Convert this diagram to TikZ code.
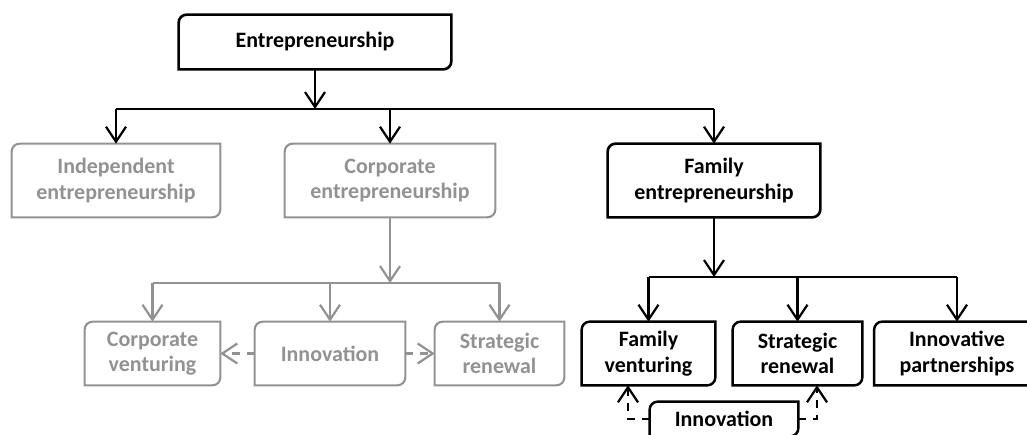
\documentclass[tikz,border=0pt]{standalone}
\usepackage{fontspec}
\setmainfont{Carlito}
\usetikzlibrary{arrows.meta}
\definecolor{grau}{HTML}{929292}
% Rahmen mit zwei abgerundeten Ecken (oben links, unten rechts)
\newcommand\rahmen[2][]{%
	\draw[#1] ([xshift=1.6mm]#2.north west) -- (#2.north east) -- ([yshift=1.6mm]#2.south east)
		arc[start angle=0, end angle=-90, radius=1.6mm] -- (#2.south west) -- ([yshift=-1.6mm]#2.north west)
		arc[start angle=180, end angle=90, radius=1.6mm] -- cycle;}
\tikzset{
	kasten/.style={inner sep=0pt, align=center, font=\fontsize{12.5}{14.5}\selectfont\bfseries},
	blass/.style={text=grau},
	linie/.style={line width=1.25pt},
	pfeil/.style={line width=1.25pt, -{Straight Barb[length=3mm,width=4mm]}},
	strich/.style={pfeil, dash pattern=on 1.5mm off 1.5mm},
}
\begin{document}
\begin{tikzpicture}
		\useasboundingbox (0,0) rectangle (20.54,8.68);
		% Oberbegriff
		\node[kasten, minimum width=5.44cm, minimum height=1.08cm] (ent) at (6.30,7.84) {Entrepreneurship};
		% zweite Ebene
		\node[kasten, blass, minimum width=4.16cm, minimum height=1.46cm] (indep) at (2.32,5.07) {Independent\\entrepreneurship};
		\node[kasten, blass, minimum width=4.20cm, minimum height=1.46cm] (corp) at (7.80,5.07) {Corporate\\entrepreneurship};
		\node[kasten, minimum width=4.24cm, minimum height=1.46cm] (family) at (14.28,5.07) {Family\\entrepreneurship};
		% dritte Ebene, Corporate
		\node[kasten, blass, minimum width=2.70cm, minimum height=1.26cm] (cventure) at (3.05,1.61) {Corporate\\venturing};
		\node[kasten, blass, minimum width=3.00cm, minimum height=1.26cm] (cinno) at (6.60,1.61) {Innovation};
		\node[kasten, blass, minimum width=2.58cm, minimum height=1.26cm] (crenew) at (9.99,1.61) {Strategic\\renewal};
		% dritte Ebene, Family
		\node[kasten, minimum width=2.66cm, minimum height=1.26cm] (fventure) at (12.97,1.61) {Family\\venturing};
		\node[kasten, minimum width=2.58cm, minimum height=1.26cm] (frenew) at (15.95,1.61) {Strategic\\renewal};
		\node[kasten, minimum width=3.30cm, minimum height=1.26cm] (fpartner) at (19.14,1.61) {Innovative\\partnerships};
		\node[kasten, minimum width=2.96cm, minimum height=0.68cm] (finno) at (14.48,0.30) {Innovation};
		% Rahmen
		\rahmen[line width=1.5pt]{ent}
		\rahmen[line width=1.2pt, grau]{indep}
		\rahmen[line width=1.2pt, grau]{corp}
		\rahmen[line width=1.5pt]{family}
		\rahmen[line width=1.2pt, grau]{cventure}
		\rahmen[line width=1.2pt, grau]{cinno}
		\rahmen[line width=1.2pt, grau]{crenew}
		\rahmen[line width=1.4pt]{fventure}
		\rahmen[line width=1.4pt]{frenew}
		\rahmen[line width=1.4pt]{fpartner}
		\rahmen[line width=1.4pt]{finno}
		% Verzweigungen
		\coordinate (split1) at (6.30,6.50);
		\coordinate (split2) at (7.80,3.02);
		\coordinate (split3) at (14.28,3.14);
		\draw[pfeil] (ent.south) -- (split1);
		\draw[linie] (indep |- split1) -- (family |- split1);
		\foreach \n in {indep,corp,family} {
			\draw[pfeil] (\n |- split1) -- (\n.north);
		}
		\draw[pfeil, grau] (corp.south) -- (split2);
		\draw[linie, grau] (cventure |- split2) -- (crenew |- split2);
		\foreach \n in {cventure,cinno,crenew} {
			\draw[pfeil, grau] (\n |- split2) -- (\n.north);
		}
		\draw[pfeil] (family.south) -- (split3);
		\draw[linie] (fventure |- split3) -- (fpartner |- split3);
		\foreach \n in {fventure,frenew,fpartner} {
			\draw[pfeil] (\n |- split3) -- (\n.north);
		}
		% gestrichelte Pfeile
		\draw[strich, grau] (cinno.west) -- (cventure.east);
		\draw[strich, grau] (cinno.east) -- (crenew.west);
		\coordinate (knick1) at (12.56,0.30);
		\coordinate (knick2) at (16.34,0.30);
		\draw[strich] (finno.west) -- (knick1) -- (knick1 |- fventure.south);
		\draw[strich] (finno.east) -- (knick2) -- (knick2 |- frenew.south);
\end{tikzpicture}
\end{document}
